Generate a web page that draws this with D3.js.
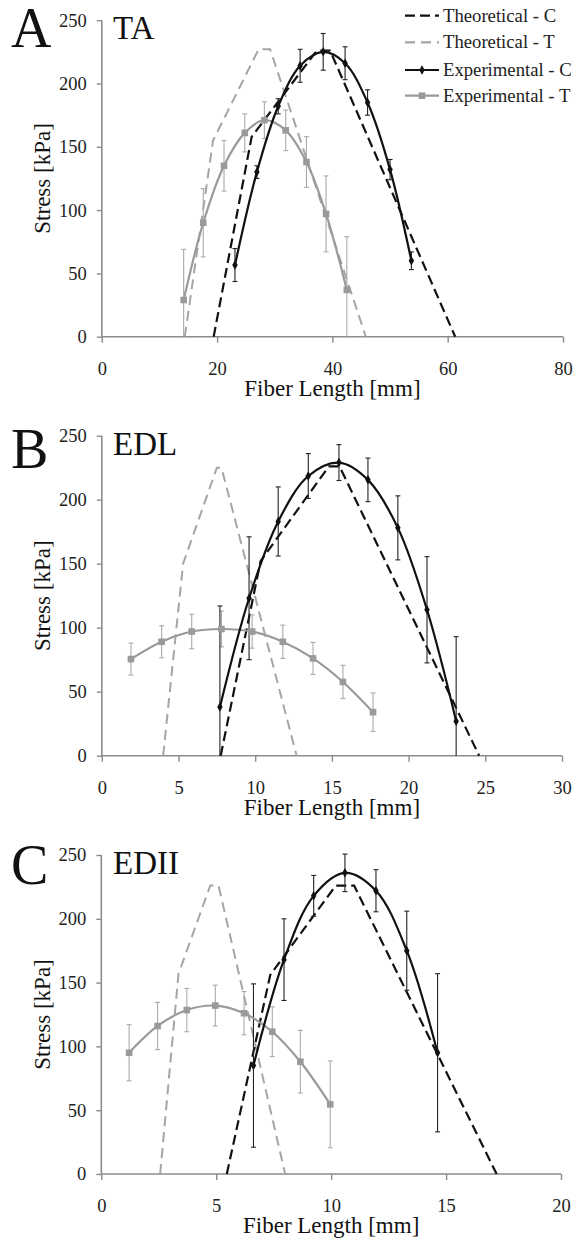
<!DOCTYPE html>
<html><head><meta charset="utf-8">
<script src="https://cdn.jsdelivr.net/npm/d3@7/dist/d3.min.js"></script>
<style>body{margin:0;background:#fff}svg{display:block}text{font-family:"Liberation Serif","Times New Roman",serif}</style>
</head><body>
<script>
// ---------- DATA ----------
const yTicks = [0, 50, 100, 150, 200, 250];
const legendLabels = ["Theoretical - C", "Theoretical - T", "Experimental - C", "Experimental - T"];

// Panel A: TA
const TA_xTicks = [0, 20, 40, 60, 80];
const TA_theoC_x = [19.4, 26.0, 37.3, 39.6, 61.3];
const TA_theoC_y = [0, 158, 226, 226, 0];
const TA_theoT_x = [14.4, 19.3, 27.2, 29.2, 45.8];
const TA_theoT_y = [0, 155, 227, 227, 0];
const TA_expC_x = [23.1, 26.9, 30.6, 34.4, 38.4, 42.2, 46.1, 50.0, 53.7];
const TA_expC_y = [56.6, 130, 182, 214, 225, 216, 185, 132, 60];
const TA_expC_err = [13, 5, 6, 13, 14.5, 13, 10, 8, 7];
const TA_expT_x = [14.2, 17.6, 21.2, 24.8, 28.2, 31.9, 35.5, 38.9, 42.5];
const TA_expT_y = [29, 90, 135, 161, 171, 163, 138, 97, 37];
const TA_expT_err = [40, 27, 20, 15, 14.5, 16, 20, 30, 42];

// Panel B: EDL
const EDL_xTicks = [0, 5, 10, 15, 20, 25, 30];
const EDL_theoC_x = [7.75, 10.35, 14.8, 15.5, 24.6];
const EDL_theoC_y = [0, 152, 226, 226, 0];
const EDL_theoT_x = [4.0, 5.3, 7.5, 7.8, 12.7];
const EDL_theoT_y = [0, 150, 225, 225, 0];
const EDL_expC_x = [7.7, 9.6, 11.5, 13.46, 15.46, 17.35, 19.3, 21.2, 23.1];
const EDL_expC_y = [38, 123, 183, 218.5, 229, 215.5, 178, 114, 27];
const EDL_expC_err = [79, 48, 27, 17.5, 14, 17, 25, 41.5, 66];
const EDL_expT_x = [1.9, 3.9, 5.86, 7.8, 9.8, 11.8, 13.77, 15.72, 17.68];
const EDL_expT_y = [75.5, 89, 97, 99, 97, 89, 76, 57.6, 34];
const EDL_expT_err = [12.5, 12.5, 13.5, 14, 13, 13, 12.5, 13, 15];

// Panel C: EDII
const EDII_xTicks = [0, 5, 10, 15, 20];
const EDII_theoC_x = [5.46, 7.35, 10.2, 11.0, 17.2];
const EDII_theoC_y = [0, 156, 226, 226, 0];
const EDII_theoT_x = [2.56, 3.36, 4.74, 5.1, 8.0];
const EDII_theoT_y = [0, 157, 226, 226, 0];
const EDII_expC_x = [6.62, 7.95, 9.24, 10.6, 11.95, 13.29, 14.63];
const EDII_expC_y = [85, 168, 218, 236, 222, 175, 95];
const EDII_expC_err = [64, 32, 16, 14.7, 16.5, 31, 62];
const EDII_expT_x = [1.21, 2.45, 3.72, 4.96, 6.21, 7.44, 8.66, 9.96];
const EDII_expT_y = [95, 116, 128.5, 132, 126, 111.5, 88, 54.6];
const EDII_expT_err = [22, 18.5, 17, 16, 17, 19.5, 24.5, 34];

// ---------- DRAW ----------
const W = 574, H = 1240;
const svg = d3.select("body").append("svg").attr("width", W).attr("height", H);
svg.append("rect").attr("width", W).attr("height", H).attr("fill", "#fff");

const BLACK = "#111", GRAY = "#9a9a9a", GRAYL = "#a5a5a5", AXIS = "#8c8c8c";

const zip = (xs, ys) => xs.map((x, i) => [x, ys[i]]);

function panel(cfg) {
  const x = d3.scaleLinear().domain([0, cfg.xTicks[cfg.xTicks.length - 1]]).range([cfg.x0, cfg.x1]);
  const y = d3.scaleLinear().domain([0, 250]).range([cfg.y0, cfg.y1]);
  const g = svg.append("g");

  // axes
  const ya = g.append("g").attr("transform", `translate(${cfg.x0},0)`)
    .call(d3.axisLeft(y).tickValues(yTicks).tickSize(5).tickPadding(10));
  const xa = g.append("g").attr("transform", `translate(0,${cfg.y0})`)
    .call(d3.axisBottom(x).tickValues(cfg.xTicks).tickSize(6).tickPadding(19));
  [ya, xa].forEach(a => {
    a.attr("font-family", null);
    a.select(".domain").attr("stroke", AXIS).attr("stroke-width", 1.6);
    a.selectAll(".tick line").attr("stroke", AXIS).attr("stroke-width", 1.4);
    a.selectAll("text").attr("fill", "#222").attr("font-size", 18.5);
  });
  ya.select(".domain").attr("d", `M0,${cfg.y0}V${cfg.y1}`);
  xa.select(".domain").attr("d", `M${cfg.x0},0H${cfg.x1}`);

  // axis titles
  g.append("text").attr("transform", `translate(50,${(cfg.y0 + cfg.y1) / 2}) rotate(-90)`)
    .attr("text-anchor", "middle").attr("font-size", 23).attr("fill", "#111").text("Stress [kPa]");
  g.append("text").attr("x", (cfg.x0 + cfg.x1) / 2).attr("y", cfg.y0 + 59)
    .attr("text-anchor", "middle").attr("font-size", 23).attr("fill", "#111").text("Fiber Length [mm]");
  // panel letter and muscle name
  g.append("text").attr("x", 11).attr("y", cfg.y1 + cfg.letterDy).attr("font-size", 56).attr("fill", "#111").text(cfg.letter);
  g.append("text").attr("x", 113).attr("y", cfg.y1 + 19).attr("font-size", 33).attr("fill", "#111").text(cfg.name);

  const lin = d3.line().x(d => x(d[0])).y(d => y(d[1]));
  const smooth = d3.line().x(d => x(d[0])).y(d => y(d[1])).curve(d3.curveCatmullRom.alpha(0.5));

  // theoretical
  g.append("path").attr("d", lin(zip(cfg.theoT_x, cfg.theoT_y))).attr("fill", "none")
    .attr("stroke", GRAYL).attr("stroke-width", 2).attr("stroke-dasharray", "10,6");
  g.append("path").attr("d", lin(zip(cfg.theoC_x, cfg.theoC_y))).attr("fill", "none")
    .attr("stroke", BLACK).attr("stroke-width", 2.2).attr("stroke-dasharray", "10,5");

  // error bars
  function errs(xs, ys, es, color, w) {
    const eg = g.append("g").attr("stroke", color).attr("stroke-width", w);
    xs.forEach((xv, i) => {
      const lo = Math.max(0, ys[i] - es[i]), hi = ys[i] + es[i];
      const px = x(xv);
      eg.append("line").attr("x1", px).attr("x2", px).attr("y1", y(lo)).attr("y2", y(hi));
      eg.append("line").attr("x1", px - 2.5).attr("x2", px + 2.5).attr("y1", y(hi)).attr("y2", y(hi));
      if (ys[i] - es[i] >= 0)
        eg.append("line").attr("x1", px - 2.5).attr("x2", px + 2.5).attr("y1", y(lo)).attr("y2", y(lo));
    });
  }
  errs(cfg.expT_x, cfg.expT_y, cfg.expT_err, "#aaa", 1.1);
  errs(cfg.expC_x, cfg.expC_y, cfg.expC_err, "#222", 1.1);

  // experimental T
  g.append("path").attr("d", smooth(zip(cfg.expT_x, cfg.expT_y))).attr("fill", "none")
    .attr("stroke", GRAY).attr("stroke-width", 2.2);
  g.selectAll(null).data(zip(cfg.expT_x, cfg.expT_y)).enter().append("rect")
    .attr("x", d => x(d[0]) - 3.3).attr("y", d => y(d[1]) - 3.3).attr("width", 6.6).attr("height", 6.6)
    .attr("fill", GRAY);
  // experimental C
  g.append("path").attr("d", smooth(zip(cfg.expC_x, cfg.expC_y))).attr("fill", "none")
    .attr("stroke", BLACK).attr("stroke-width", 2.2);
  g.selectAll(null).data(zip(cfg.expC_x, cfg.expC_y)).enter().append("path")
    .attr("d", d3.symbol(d3.symbolDiamond, 26)())
    .attr("transform", d => `translate(${x(d[0])},${y(d[1])})`).attr("fill", BLACK);
  return g;
}

panel({letter: "A", name: "TA", letterDy: 27, x0: 101.8, x1: 563, y0: 336.7, y1: 20.2, xTicks: TA_xTicks,
  theoC_x: TA_theoC_x, theoC_y: TA_theoC_y, theoT_x: TA_theoT_x, theoT_y: TA_theoT_y,
  expC_x: TA_expC_x, expC_y: TA_expC_y, expC_err: TA_expC_err,
  expT_x: TA_expT_x, expT_y: TA_expT_y, expT_err: TA_expT_err});
panel({letter: "B", name: "EDL", letterDy: 32, x0: 101.8, x1: 562, y0: 755.7, y1: 435.7, xTicks: EDL_xTicks,
  theoC_x: EDL_theoC_x, theoC_y: EDL_theoC_y, theoT_x: EDL_theoT_x, theoT_y: EDL_theoT_y,
  expC_x: EDL_expC_x, expC_y: EDL_expC_y, expC_err: EDL_expC_err,
  expT_x: EDL_expT_x, expT_y: EDL_expT_y, expT_err: EDL_expT_err});
panel({letter: "C", name: "EDII", letterDy: 29, x0: 101.3, x1: 561, y0: 1174, y1: 855, xTicks: EDII_xTicks,
  theoC_x: EDII_theoC_x, theoC_y: EDII_theoC_y, theoT_x: EDII_theoT_x, theoT_y: EDII_theoT_y,
  expC_x: EDII_expC_x, expC_y: EDII_expC_y, expC_err: EDII_expC_err,
  expT_x: EDII_expT_x, expT_y: EDII_expT_y, expT_err: EDII_expT_err});

// legend (panel A)
const lg = svg.append("g");
const rows = [21.7, 48.3, 76, 101.7];
const styles = [
  {stroke: BLACK, dash: "10,5", marker: null},
  {stroke: GRAYL, dash: "10,6", marker: null},
  {stroke: BLACK, dash: null, marker: "diamond"},
  {stroke: GRAY, dash: null, marker: "square"}
];
legendLabels.forEach((lab, i) => {
  const cy = rows[i] - 6;
  const s = styles[i];
  lg.append("line").attr("x1", 405).attr("x2", 439).attr("y1", cy).attr("y2", cy)
    .attr("stroke", s.stroke).attr("stroke-width", 2.2).attr("stroke-dasharray", s.dash);
  if (s.marker === "diamond")
    lg.append("path").attr("d", d3.symbol(d3.symbolDiamond, 26)()).attr("transform", `translate(422,${cy})`).attr("fill", BLACK);
  if (s.marker === "square")
    lg.append("rect").attr("x", 418.7).attr("y", cy - 3.3).attr("width", 6.6).attr("height", 6.6).attr("fill", GRAY);
  lg.append("text").attr("x", 443).attr("y", rows[i]).attr("font-size", 18.7).attr("fill", "#222").text(lab);
});
</script>
</body></html>
